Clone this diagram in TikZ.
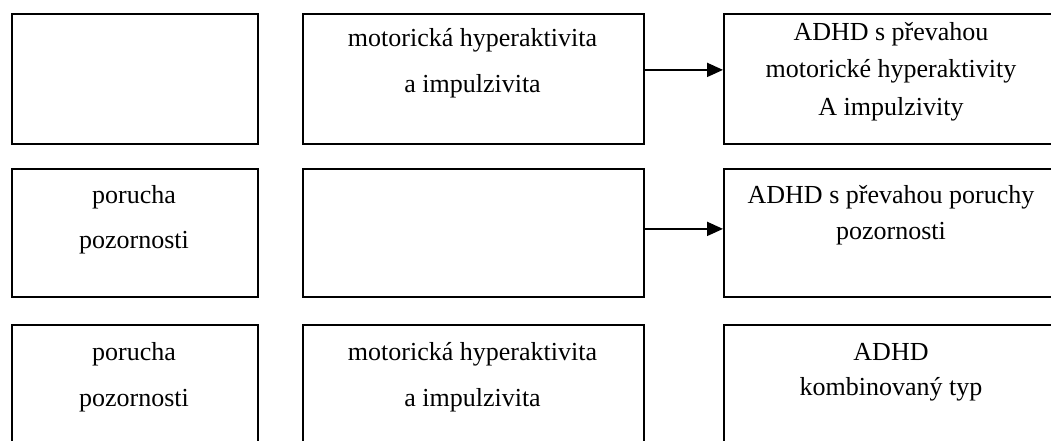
\documentclass[tikz,border=0pt]{standalone}
\usepackage{fontspec}
\setmainfont{Liberation Serif}
\usetikzlibrary{arrows.meta}
\begin{document}
\begin{tikzpicture}[x=1pt,y=-1pt,
  box/.style={draw=black,line width=1.8pt,rectangle,inner sep=0pt,anchor=north west},
  txt/.style={anchor=base,inner sep=0pt,font=\fontsize{26}{30}\selectfont},
  arr/.style={line width=2pt,-{Triangle[length=16pt,width=14pt]}}]
\useasboundingbox (0,0) rectangle (1051,441);
\clip (0,0) rectangle (1051,441);
% row 1
\node[box,minimum width=246pt,minimum height=130pt] (A1) at (11,13) {};
\node[box,minimum width=341pt,minimum height=130pt] (B1) at (302,13) {};
\node[box,minimum width=336pt,minimum height=130pt] (C1) at (723,13) {};
% row 2
\node[box,minimum width=246pt,minimum height=128pt] (A2) at (11,168) {};
\node[box,minimum width=341pt,minimum height=128pt] (B2) at (302,168) {};
\node[box,minimum width=336pt,minimum height=128pt] (C2) at (723,168) {};
% row 3 (continues below the page edge)
\node[box,minimum width=246pt,minimum height=140pt] (A3) at (11,324) {};
\node[box,minimum width=341pt,minimum height=140pt] (B3) at (302,324) {};
\node[box,minimum width=336pt,minimum height=140pt] (C3) at (723,324) {};
% labels
\node[txt] (b1a) at (472.5,47) {motorická hyperaktivita};
\node[txt] (b1b) at (472.5,93) {a impulzivita};
\node[txt] (c1a) at (891,41) {ADHD s převahou};
\node[txt] (c1b) at (891,78) {motorické hyperaktivity};
\node[txt] (c1c) at (891,115) {A impulzivity};
\node[txt] (a2a) at (134,203) {porucha};
\node[txt] (a2b) at (134,248) {pozornosti};
\node[txt] (c2a) at (891,203) {ADHD s převahou poruchy};
\node[txt] (c2b) at (891,239) {pozornosti};
\node[txt] (a3a) at (134,360) {porucha};
\node[txt] (a3b) at (134,406) {pozornosti};
\node[txt] (b3a) at (472.5,360) {motorická hyperaktivita};
\node[txt] (b3b) at (472.5,406) {a impulzivita};
\node[txt] (c3a) at (891,360) {ADHD};
\node[txt] (c3b) at (891,395) {kombinovaný typ};
% connectors
\draw[arr] ([yshift=9pt]B1.east) -- ([yshift=9pt]C1.west);
\draw[arr] ([yshift=4pt]B2.east) -- ([yshift=4pt]C2.west);
\end{tikzpicture}
\end{document}
